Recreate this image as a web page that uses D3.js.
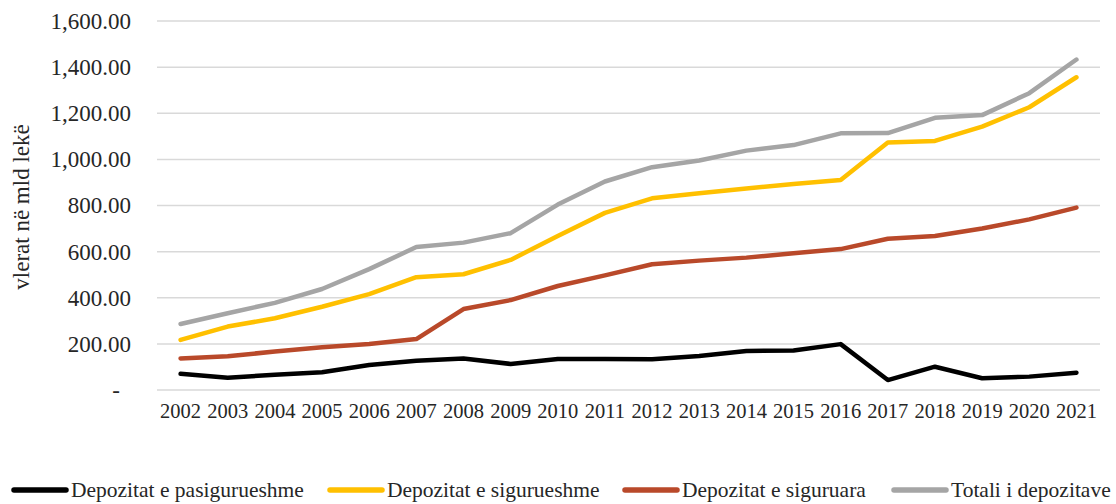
<!DOCTYPE html>
<html><head><meta charset="utf-8">
<script src="https://cdn.jsdelivr.net/npm/d3@7"></script>
<style>body{margin:0;background:#fff;} svg{display:block;} text{font-family:"Liberation Serif",serif;}</style>
</head><body>
<svg id="chart" width="1116" height="504"></svg>
<script>
const years = ["2002","2003","2004","2005","2006","2007","2008","2009","2010","2011","2012","2013","2014","2015","2016","2017","2018","2019","2020","2021"];
const pasigurueshme = [70,53,66,77,108,127,137,113,134,134,133,147,169,171,199,43,101,51,58,75];
const sigurueshme = [217,275,311,361,416,489,502,564,668,768,831,853,874,893,911,1073,1080,1142,1226,1356];
const siguruara = [137,146,167,185,199,221,351,390,451,497,545,561,574,593,611,656,668,700,740,791];
const totali = [286,333,378,438,524,620,639,680,804,904,966,995,1038,1062,1113,1114,1180,1192,1287,1433];
const seriesNames = ["Depozitat e pasigurueshme","Depozitat e sigurueshme","Depozitat e siguruara","Totali i depozitave"];
const seriesColors = ["#000000","#FFC000","#B9492A","#A5A5A5"];
const yTicks = [0,200,400,600,800,1000,1200,1400,1600];
const yTitle = "vlerat në mld lekë";

const FONT = "Liberation Serif";
const svg = d3.select("#chart");
const x = d3.scaleBand().domain(years).range([157,1100]);
const y = d3.scaleLinear().domain([0,1600]).range([390,21]);

// gridlines
svg.append("g").selectAll("line").data(yTicks).join("line")
  .attr("x1",157).attr("x2",1100)
  .attr("y1",d=>y(d)).attr("y2",d=>y(d))
  .attr("stroke","#D9D9D9").attr("stroke-width",1.5);

// y axis labels
const fmt = d3.format(",.2f");
const yAxis = svg.append("g").attr("transform","translate(131,0)")
  .call(d3.axisLeft(y).tickValues(yTicks).tickSize(0).tickPadding(0).tickFormat(d=> d===0 ? "-" : fmt(d)));
yAxis.select(".domain").remove();
yAxis.attr("font-family",FONT);
yAxis.selectAll("text").attr("font-size",23).attr("fill","#262626")
  .attr("font-family",FONT)
  .attr("dx",d=>d===0?-11:0).attr("dy","0.32em");

// x axis labels
const xAxis = svg.append("g").attr("transform","translate(0,402)")
  .call(d3.axisBottom(x).tickSize(0).tickPadding(0));
xAxis.select(".domain").remove();
xAxis.attr("font-family",FONT);
xAxis.selectAll("text").attr("font-size",20.5).attr("fill","#262626")
  .attr("font-family",FONT).attr("dy","0.8em");

// y title
svg.append("text").attr("transform","translate(29,207) rotate(-90)")
  .attr("font-family",FONT)
  .attr("text-anchor","middle").attr("font-size",23).attr("fill","#262626").text(yTitle);

// lines
const data = [pasigurueshme, sigurueshme, siguruara, totali];
const line = d3.line().x((d,i)=>x(years[i])+x.bandwidth()/2).y(d=>y(d));
svg.append("g").selectAll("path").data(data).join("path")
  .attr("d",line).attr("fill","none")
  .attr("stroke",(d,i)=>seriesColors[i]).attr("stroke-width",4.5)
  .attr("stroke-linejoin","round").attr("stroke-linecap","round");

// legend
const legX = [12,328,623,892];
const leg = svg.append("g").selectAll("g").data(seriesNames).join("g")
  .attr("transform",(d,i)=>`translate(${legX[i]},490)`);
leg.append("line").attr("x1",2).attr("x2",54).attr("y1",0).attr("y2",0)
  .attr("stroke",(d,i)=>seriesColors[i]).attr("stroke-width",5.5).attr("stroke-linecap","round");
leg.append("text").attr("x",59).attr("dy","0.33em").attr("font-size",21.5)
  .attr("font-family",FONT).attr("fill","#262626").text(d=>d);
</script>
</body></html>
